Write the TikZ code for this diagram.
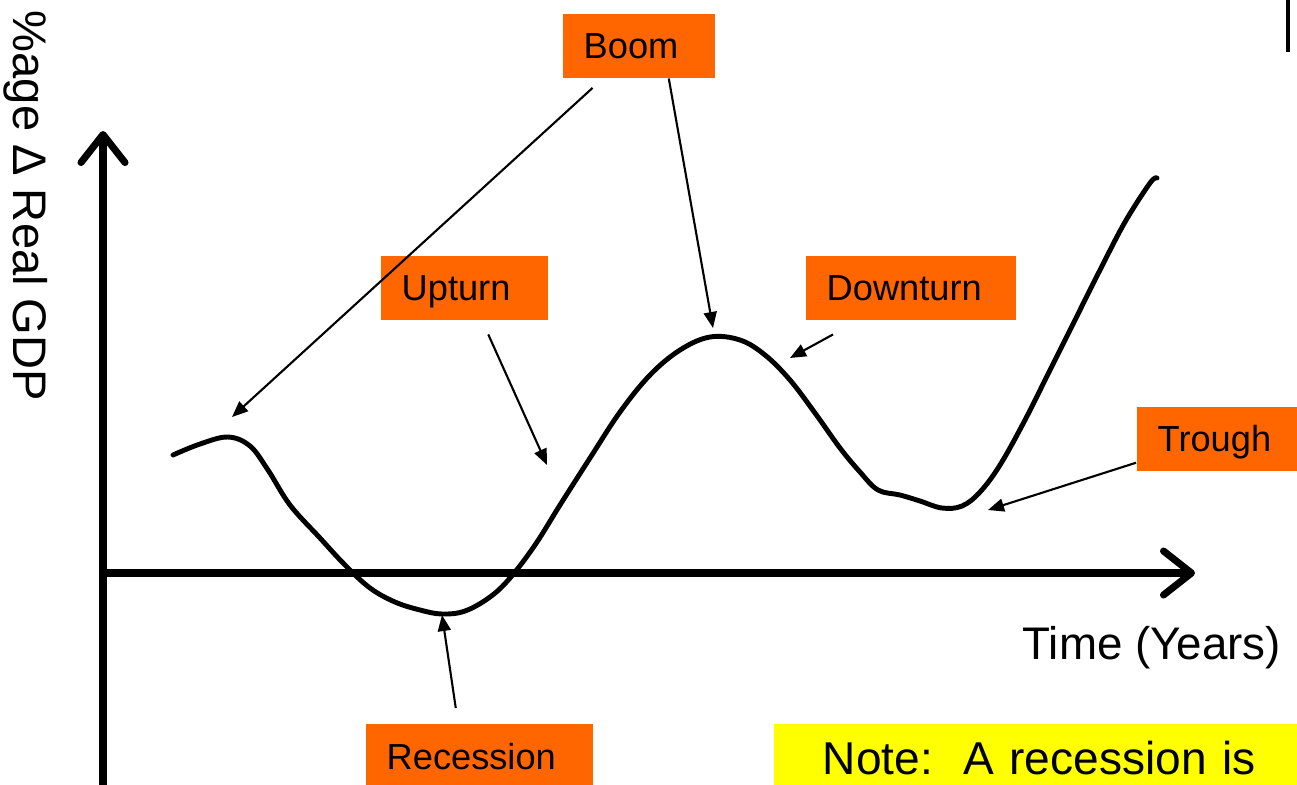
\documentclass[tikz,border=0pt]{standalone}
\usepackage{fontspec}
\setmainfont{Liberation Sans}
\usepackage{xcolor}
\definecolor{myorange}{HTML}{FF6600}
\definecolor{myyellow}{HTML}{FFFF00}
\usetikzlibrary{arrows.meta}

\begin{document}
\begin{tikzpicture}[x=0.01cm, y=-0.01cm,
    axis/.style={line width=2pt, line cap=round,
      -{Straight Barb[length=2.8mm, width=4.4mm, round]}},
    pointer/.style={line width=0.6pt, shorten <=0pt,
      -{Triangle[length=1.6mm, width=1.3mm]}},
    tag/.style={fill=myorange, anchor=north west, inner xsep=2.1mm,
      inner ysep=0pt, minimum height=6.4mm, align=left,
      text height=0.85em, text depth=0.15em,
      font=\fontsize{10.3}{12}\selectfont}]
      \clip (0,0) rectangle (1297,784);

      % axes
      \coordinate (o) at (103,573);
      \coordinate (ytop) at (103,131);
      \coordinate (xend) at (1195,573);
      \draw[axis] (103,790) -- (ytop);
      \draw[axis] (o) -- (xend);
      \node[rotate=-90, anchor=base, inner sep=0pt,
        font=\fontsize{13.4}{16}\selectfont] (ylabel) at (13,206) {\%age Δ Real GDP};
      \node[anchor=base west, inner sep=0pt,
        font=\fontsize{13}{16}\selectfont] (xlabel) at (1022,659) {Time (Years)};
      \draw[line width=1pt] (1288,0) -- (1288,52);

      % the cycle
      \draw[line width=1.4pt, line cap=round, line join=round] plot[smooth, tension=0.6] coordinates {
        (173,455) (200,444) (228,437) (250,446) (268,470) (290,505)
        (320,538) (345,565) (370,588) (395,602) (420,610) (442,614)
        (465,611) (490,597) (510,578) (535,545) (560,505) (590,458)
        (620,412) (650,375) (680,350) (710,337) (740,340) (765,355)
        (790,380) (815,413) (840,448) (860,472) (878,490) (900,495)
        (920,501) (942,508) (962,506) (980,492) (1000,465) (1025,420)
        (1050,370) (1075,320) (1100,270) (1125,222) (1150,183) (1157,178)};
      \coordinate (hump) at (232,417);
      \coordinate (peak) at (713,328);
      \coordinate (rise) at (547,465);
      \coordinate (fall) at (790,358);
      \coordinate (low) at (988,510);
      \coordinate (dip) at (442,615);

      % labels
      \node[tag, text width=11mm] (boom) at (562,13) {Boom};
      \node[tag, text width=12.5mm] (upturn) at (380,255) {Upturn};
      \node[tag, text width=16.8mm] (downturn) at (805,255) {Downturn};
      \node[tag, text width=13mm] (trough) at (1136,406) {Trough};
      \node[tag, text width=18.5mm, minimum height=6.6mm] (recession) at (365,723) {Recession};
      \node[tag, fill=myyellow, inner xsep=4.9mm, text width=6cm, minimum height=7.7mm,
        font=\fontsize{13.1}{16}\selectfont] (note) at (773,723) {Note:\ \ A recession is};

      \draw[pointer, shorten <=1.4mm] (boom) -- (hump);
      \draw[pointer] ([xshift=3mm]boom.south) -- (peak);
      \draw[pointer] ([xshift=2.4mm, yshift=-1.4mm]upturn.south) -- (rise);
      \draw[pointer] ([xshift=2.8mm, yshift=-1.4mm]downturn.south west) -- (fall);
      \draw[pointer] ([yshift=-2.4mm]trough.west) -- (low);
      \draw[pointer] ([xshift=-2.35mm, yshift=1.5mm]recession.north) -- (dip);
    \end{tikzpicture}
\end{document}
